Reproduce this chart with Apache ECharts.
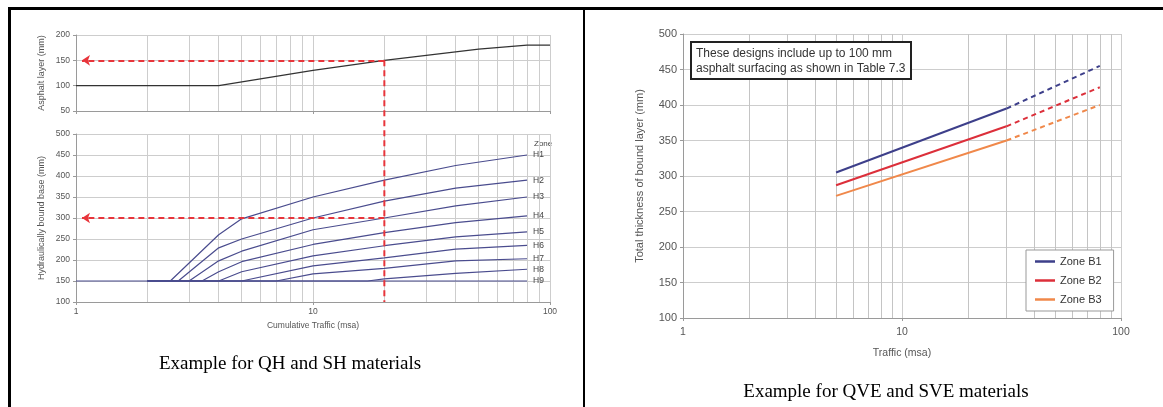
<!DOCTYPE html>
<html><head><meta charset="utf-8">
<script src="https://cdn.jsdelivr.net/npm/echarts@6/dist/echarts.min.js"></script>
<style>html,body{margin:0;padding:0;background:#fff}#c{width:1163px;height:407px}</style>
</head><body><div id="c"></div>
<script>
// ---------- data ----------
const minorX = [2,3,4,5,6,7,8,9,20,30,40,50,60,70,80,90];

// Left panel – asphalt layer (top chart)
const asphaltX = [1, 4, 10, 20, 50, 80, 100];
const asphaltY = [100, 100, 130, 150, 172, 180, 180];

// Left panel – hydraulically bound base zones (bottom chart)
const zoneNames = ['H1','H2','H3','H4','H5','H6','H7','H8','H9'];
const zoneH1 = [[2,150],[2.5,150],[4,260],[5,298],[10,350],[20,390],[40,425],[80,450]];
const zoneH2 = [[2,150],[2.7,150],[4,229],[5,250],[10,300],[20,340],[40,371],[80,390]];
const zoneH3 = [[2,150],[3,150],[4,198],[5,221],[10,272],[20,300],[40,329],[80,350]];
const zoneH4 = [[2,150],[3.4,150],[4,172],[5,196],[10,237],[20,265],[40,289],[80,305]];
const zoneH5 = [[2,150],[4,150],[5,172],[10,210],[20,234],[40,255],[80,267]];
const zoneH6 = [[2,150],[5,150],[10,186],[20,205],[40,226],[80,235]];
const zoneH7 = [[2,150],[7,150],[10,167],[20,180],[40,198],[80,203]];
const zoneH8 = [[2,150],[17,150],[20,155],[40,168],[80,178]];
const zoneH9 = [[1,150],[80,150]];
const zoneData = [zoneH1,zoneH2,zoneH3,zoneH4,zoneH5,zoneH6,zoneH7,zoneH8,zoneH9];

// red guide lines
const guideX = 20;
const guideAsphalt = 150;
const guideBase = 300;
const arrowTipX = 1.06;
const guideSpan = [1, 0];

// Right panel – bound layer thickness
const legendNames = ['Zone B1','Zone B2','Zone B3'];
const trafficSolid = [5, 30];
const trafficDashed = [30, 80];
const b1Solid = [305, 395], b1Dashed = [395, 455];
const b2Solid = [287, 370], b2Dashed = [370, 425];
const b3Solid = [272, 350], b3Dashed = [350, 400];

// ---------- styles ----------
const FONT = 'Liberation Sans, Arial, sans-serif';
const navy = '#3d3f8a', red = '#dc2f3a', orange = '#f0884a', guideRed = '#e8353b';
const zoneColor = '#4a4c8e';
const axisGray = '#9a9a9a', gridGray = '#cdcdcd', labelGray = '#555';

const pair = (xs, ys) => xs.map((x, i) => [x, ys[i]]);

function gridLines(xi, yi, color) {
  return {type:'line', xAxisIndex:xi, yAxisIndex:yi, data:[], silent:true, z:1,
    markLine:{z:1, silent:true, symbol:'none', animation:false, label:{show:false},
      lineStyle:{type:'solid', color:color, width:1}, emphasis:{disabled:true},
      data: minorX.map(v => ({xAxis:v}))}};
}

function logX(grid, extra) {
  return Object.assign({gridIndex:grid, type:'log', logBase:10, min:1, max:100,
    axisLine:{lineStyle:{color:axisGray}},
    axisTick:{show:true, length:3, lineStyle:{color:axisGray}},
    splitLine:{show:true, lineStyle:{color:gridGray}},
    axisLabel:{show:false}}, extra || {});
}
function valY(grid, min, max, extra) {
  return Object.assign({gridIndex:grid, type:'value', min:min, max:max, interval:50,
    axisLine:{show:true, lineStyle:{color:axisGray}},
    axisTick:{show:true, length:3, lineStyle:{color:axisGray}},
    splitLine:{show:true, lineStyle:{color:gridGray}}}, extra || {});
}

function arrowGuide(xi, yi, yVal) {
  return {type:'line', xAxisIndex:xi, yAxisIndex:yi, data:[], z:6, silent:true,
   markLine:{z:6, silent:true, animation:false, symbol:['none','arrow'], symbolSize:8, label:{show:false},
     lineStyle:{type:[6,4], color:guideRed, width:2}, emphasis:{disabled:true},
     data:[[{coord:[guideX, yVal]},{coord:[arrowTipX, yVal]}]]}};
}

const series = [
  gridLines(0, 0, gridGray),
  gridLines(1, 1, gridGray),
  gridLines(3, 3, '#c4c4c4'),
  {type:'line', xAxisIndex:0, yAxisIndex:0, data: pair(asphaltX, asphaltY), symbol:'none',
   lineStyle:{color:'#333', width:1.2}, z:3, silent:true},
  arrowGuide(0, 0, guideAsphalt),
  arrowGuide(1, 1, guideBase),
  {type:'line', xAxisIndex:2, yAxisIndex:2, data: guideSpan.map(v => [guideX, v]), symbol:'none', z:6, silent:true,
   lineStyle:{type:[6,4], color:guideRed, width:2}}
];

zoneNames.forEach((n, i) => {
  series.push({type:'line', name:n, xAxisIndex:1, yAxisIndex:1, data: zoneData[i], symbol:'none', z:3, silent:true,
    lineStyle:{color:zoneColor, width:1.2},
    endLabel:{show:true, formatter:'{a}', fontSize:8.5, color:'#444', fontFamily:FONT, distance:6}});
});

const rightSets = [[legendNames[0], navy, b1Solid, b1Dashed],[legendNames[1], red, b2Solid, b2Dashed],[legendNames[2], orange, b3Solid, b3Dashed]];
rightSets.forEach(([n, c, s, d]) => {
  series.push({type:'line', name:n, xAxisIndex:3, yAxisIndex:3, data: pair(trafficSolid, s), symbol:'none', z:3,
    itemStyle:{color:c}, lineStyle:{color:c, width:2}});
  series.push({type:'line', name:n, xAxisIndex:3, yAxisIndex:3, data: pair(trafficDashed, d), symbol:'none', z:3,
    itemStyle:{color:c}, lineStyle:{color:c, width:2, type:[5,4]}});
});

const topG = {left:76, top:35, width:474, height:76};
const botG = {left:76, top:134, width:474, height:168};
const guideTop = topG.top + topG.height * (200 - guideAsphalt) / 150;
const botBottom = botG.top + botG.height;

const leftTick = {fontSize:8.5, color:labelGray, margin:6};
const option = {
  backgroundColor:'#fff',
  animation:false,
  textStyle:{fontFamily:FONT},
  grid:[
    topG, botG,
    {left:76, top:guideTop, width:474, height: botBottom - guideTop},
    {left:683, top:34, width:438, height:284}
  ],
  xAxis:[
    logX(0),
    logX(1, {axisLabel:{show:true, fontSize:8.5, color:labelGray, margin:5},
      name:'Cumulative Traffic (msa)', nameLocation:'middle', nameGap:19,
      nameTextStyle:{fontSize:8.5, color:labelGray}}),
    {gridIndex:2, type:'log', min:1, max:100, show:false},
    logX(3, {axisLabel:{show:true, fontSize:10.5, color:labelGray, margin:9},
      name:'Traffic (msa)', nameLocation:'middle', nameGap:30,
      nameTextStyle:{fontSize:10.5, color:labelGray}})
  ],
  yAxis:[
    valY(0, 50, 200, {axisLabel:leftTick,
      name:'Asphalt layer (mm)', nameLocation:'middle', nameGap:30, nameRotate:90,
      nameTextStyle:{fontSize:9, color:labelGray}}),
    valY(1, 100, 500, {axisLabel:leftTick,
      name:'Hydraulically bound base (mm)', nameLocation:'middle', nameGap:30, nameRotate:90,
      nameTextStyle:{fontSize:9, color:labelGray}}),
    {gridIndex:2, type:'value', min:0, max:1, show:false},
    valY(3, 100, 500, {axisLabel:{fontSize:11, color:labelGray, margin:6},
      name:'Total thickness of bound layer (mm)', nameLocation:'middle', nameGap:38, nameRotate:90,
      nameTextStyle:{fontSize:11, color:labelGray}})
  ],
  legend:{data:legendNames, orient:'vertical', left:1026, top:250, icon:'rect', itemWidth:20, itemHeight:2.5,
    itemGap:8, padding:[6,12,6,9], backgroundColor:'#fff', borderColor:'#999', borderWidth:1,
    textStyle:{fontSize:11, color:'#333', fontFamily:FONT}, selectedMode:false},
  title:[{text:'These designs include up to 100 mm\nasphalt surfacing as shown in Table 7.3',
    left:691, top:42, padding:[4,6,3,5], borderColor:'#222', borderWidth:2, backgroundColor:'#fff',
    textStyle:{fontSize:12, fontWeight:'normal', color:'#333', lineHeight:15, fontFamily:FONT}}],
  graphic:[
    {type:'rect', shape:{x:8, y:7, width:1155, height:3}, style:{fill:'#000'}, silent:true},
    {type:'rect', shape:{x:8, y:7, width:3, height:400}, style:{fill:'#000'}, silent:true},
    {type:'rect', shape:{x:583, y:7, width:2, height:400}, style:{fill:'#000'}, silent:true},
    {type:'text', x:534, y:140, style:{text:'Zone', fontSize:8, fill:'#444', fontFamily:FONT}, silent:true},
    {type:'text', x:290, y:364, style:{text:'Example for QH and SH materials', fontSize:19, fill:'#000',
      fontFamily:'Liberation Serif, Times New Roman, serif', align:'center', verticalAlign:'middle'}, silent:true},
    {type:'text', x:886, y:392, style:{text:'Example for QVE and SVE materials', fontSize:19, fill:'#000',
      fontFamily:'Liberation Serif, Times New Roman, serif', align:'center', verticalAlign:'middle'}, silent:true}
  ],
  series: series
};
const chart = echarts.init(document.getElementById('c'), null, {renderer:'canvas'});
chart.setOption(option);
</script></body></html>
